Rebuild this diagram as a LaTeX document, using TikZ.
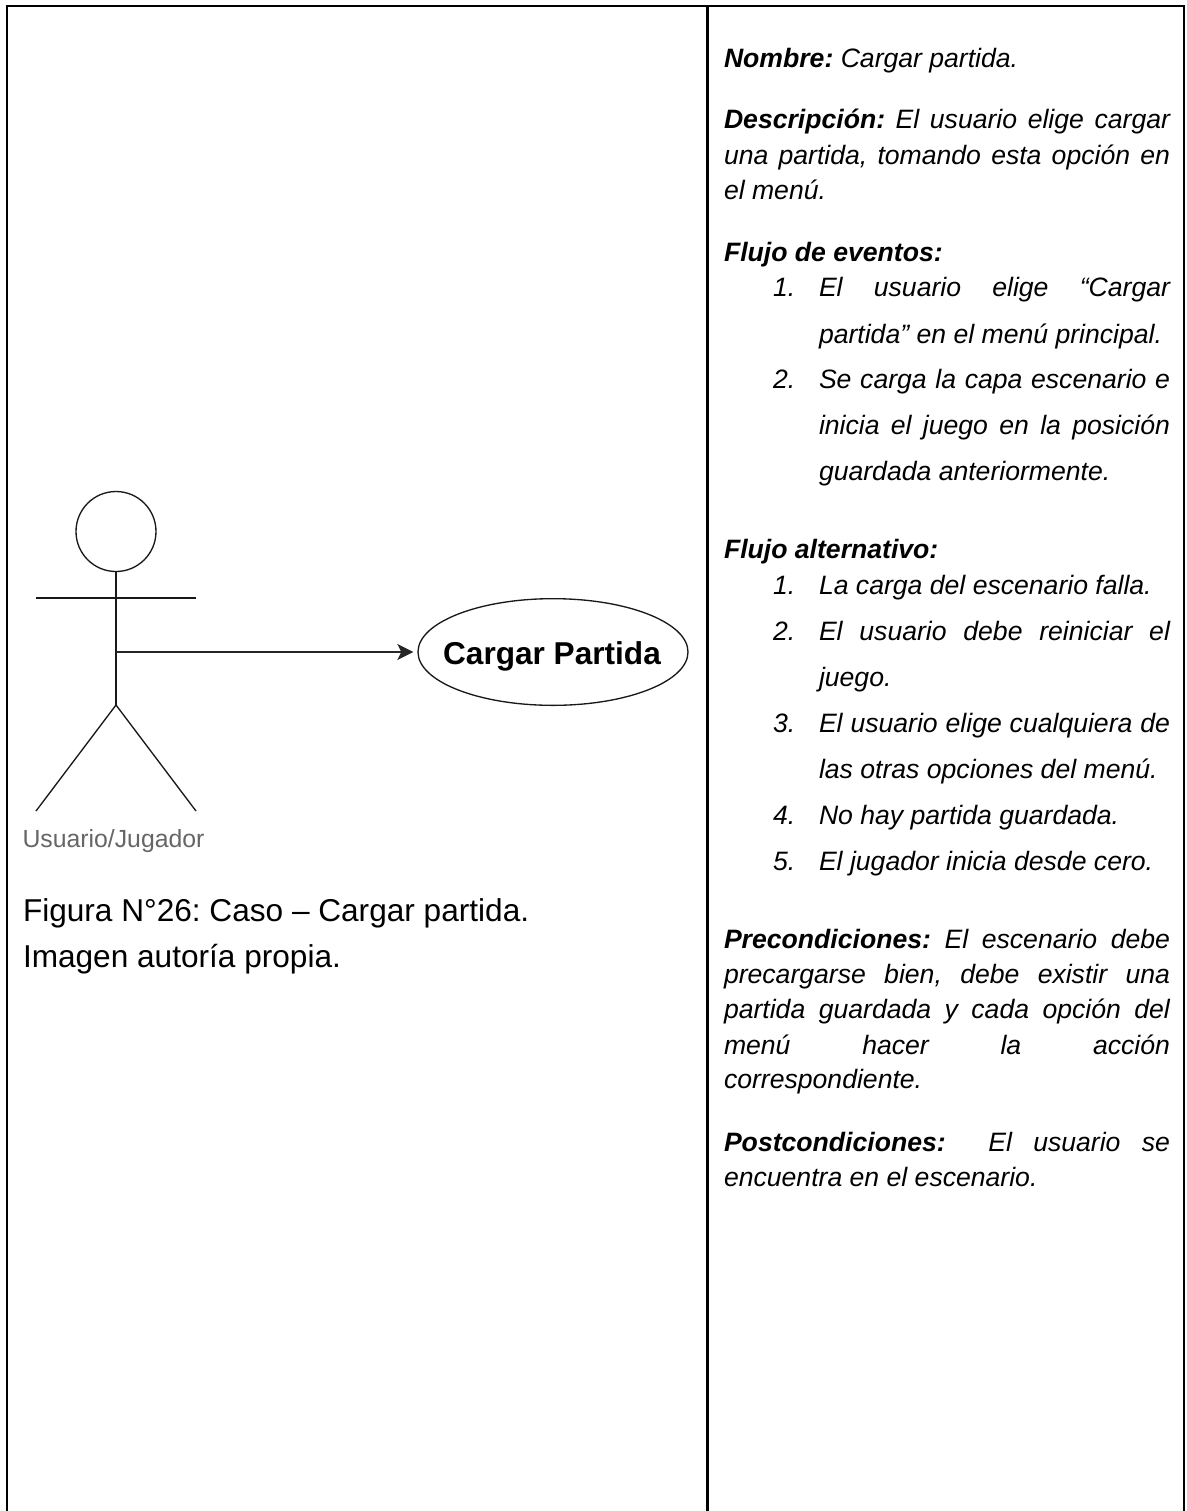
\documentclass[tikz,border=0pt]{standalone}
\usepackage{fontspec}
\setmainfont{Liberation Sans}
\usetikzlibrary{shapes.geometric,arrows.meta}
\frenchspacing
\newcommand{\fullj}[1]{\makebox[334.5pt][s]{#1}}
\newcommand{\listj}[1]{\makebox[263.25pt][s]{#1}}
\tikzset{
  txt/.style={anchor=base west,inner sep=0pt,outer sep=0pt,text=black,font=\fontsize{19.95pt}{24pt}\selectfont\itshape},
  captiontxt/.style={anchor=base west,inner sep=0pt,outer sep=0pt,text=black,font=\fontsize{23.7pt}{28pt}\selectfont},
  frameline/.style={draw=black,line width=1.8pt},
  figline/.style={draw=black!90,line width=1pt},
}
\begin{document}
\begin{tikzpicture}[x=0.75pt,y=-0.75pt]
\useasboundingbox (0,0) rectangle (1186,1511);
\fill[white] (0,0) rectangle (1186,1511);
% table frame
\coordinate (tl) at (7,1511); \coordinate (tlt) at (7,6);
\coordinate (trt) at (1184,6); \coordinate (tr) at (1184,1511);
\coordinate (mt) at (707.5,6); \coordinate (mb) at (707.5,1511);
\draw[frameline] (tl) -- (tlt) -- (trt) -- (tr);
\draw[frameline] (mt) -- (mb);
% actor
\node[draw=black!90,line width=1pt,ellipse,minimum width=60pt,minimum height=60pt,inner sep=0pt] (head) at (116,531.5) {};
\coordinate (neck) at (116,572);
\coordinate (hip) at (116,705);
\coordinate (armL) at (36,598); \coordinate (armR) at (196,598);
\coordinate (legL) at (36,811); \coordinate (legR) at (196,811);
\coordinate (body) at (116,652);
\draw[figline] (neck) -- (hip);
\draw[figline] (armL) -- (armR);
\draw[figline] (legL) -- (hip) -- (legR);
\node[anchor=base,inner sep=0pt,text=black!60,font=\fontsize{18.6pt}{22pt}\selectfont] (actorlabel) at (113.5,847) {Usuario/Jugador};
% use case
\node[draw=black!90,line width=1pt,ellipse,minimum width=202.5pt,minimum height=80pt,inner sep=0pt] (usecase) at (553,652) {};
\node[anchor=base,inner sep=0pt,text=black,font=\fontsize{23.7pt}{28pt}\selectfont\bfseries] (usecasetext) at (552,664) {Cargar Partida};
\draw[draw=black!85,line width=1.6pt,-{Stealth[length=12pt,width=12pt,inset=3pt]},shorten >=3pt] (body) -- (usecase.west);
% caption
\node[captiontxt] (capa) at (23,921.7) {Figura N°26: Caso – Cargar partida.};
\node[captiontxt] (capb) at (23,967) {Imagen autoría propia.};
% right column
\node[txt] (n1) at (724,67) {\textbf{Nombre:} Cargar partida.};
\node[txt] (d1) at (724,128) {\fullj{\textbf{Descripción:} El usuario elige cargar}};
\node[txt] (d2) at (724,164) {\fullj{una partida, tomando esta opción en}};
\node[txt] (d3) at (724,199) {el menú.};
\node[txt] (f0) at (724,261) {\textbf{Flujo de eventos:}};
\node[txt] (f1n) at (773,296) {1.};
\node[txt] (f1a) at (819,296) {\listj{El usuario elige “Cargar}};
\node[txt] (f1b) at (819,343) {partida” en el menú principal.};
\node[txt] (f2n) at (773,388) {2.};
\node[txt] (f2a) at (819,388) {\listj{Se carga la capa escenario e}};
\node[txt] (f2b) at (819,434) {\listj{inicia el juego en la posición}};
\node[txt] (f2c) at (819,480) {guardada anteriormente.};
\node[txt] (a0) at (724,558) {\textbf{Flujo alternativo:}};
\node[txt] (a1n) at (773,594) {1.};
\node[txt] (a1a) at (819,594) {La carga del escenario falla.};
\node[txt] (a2n) at (773,640) {2.};
\node[txt] (a2a) at (819,640) {\listj{El usuario debe reiniciar el}};
\node[txt] (a2b) at (819,686) {juego.};
\node[txt] (a3n) at (773,732) {3.};
\node[txt] (a3a) at (819,732) {\listj{El usuario elige cualquiera de}};
\node[txt] (a3b) at (819,778) {las otras opciones del menú.};
\node[txt] (a4n) at (773,824) {4.};
\node[txt] (a4a) at (819,824) {No hay partida guardada.};
\node[txt] (a5n) at (773,870) {5.};
\node[txt] (a5a) at (819,870) {El jugador inicia desde cero.};
\node[txt] (p1) at (724,948) {\fullj{\textbf{Precondiciones:} El escenario debe}};
\node[txt] (p2) at (724,983) {\fullj{precargarse bien, debe existir una}};
\node[txt] (p3) at (724,1018) {\fullj{partida guardada y cada opción del}};
\node[txt] (p4) at (724,1054) {\fullj{menú hacer la acción}};
\node[txt] (p5) at (724,1088) {correspondiente.};
\node[txt] (q1) at (724,1151) {\fullj{\textbf{Postcondiciones:} \ El usuario se}};
\node[txt] (q2) at (724,1186) {encuentra en el escenario.};
\end{tikzpicture}
\end{document}
